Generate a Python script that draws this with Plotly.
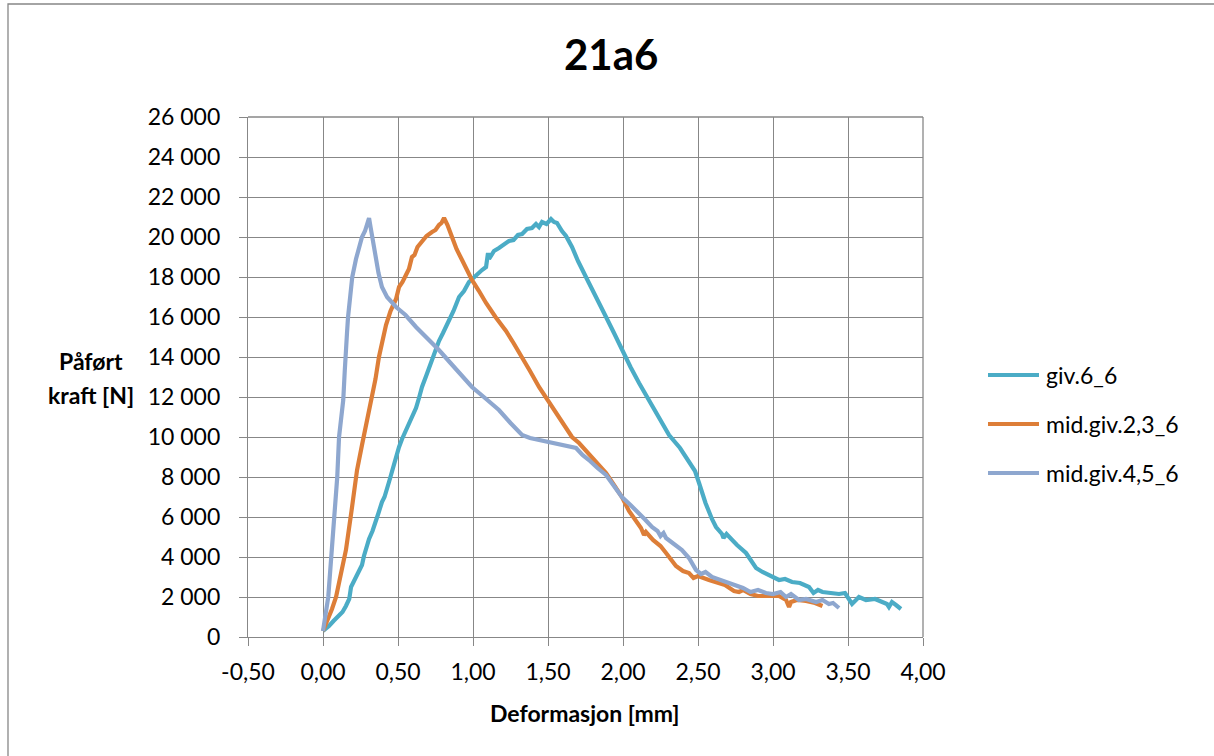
import plotly.graph_objects as go

# Deformasjon [mm] og påført kraft [N] for de tre målepunktene
giv_6_6_x = [0.0, 0.02, 0.04, 0.07, 0.107, 0.13, 0.153, 0.175, 0.187, 0.21, 0.24, 0.26, 0.273, 0.29,
             0.307, 0.33, 0.353, 0.37, 0.393, 0.41, 0.44, 0.46, 0.487, 0.507, 0.527, 0.55, 0.573, 0.60,
             0.62, 0.64, 0.66, 0.69, 0.727, 0.75, 0.773, 0.80, 0.84, 0.87, 0.907, 0.94, 0.973, 1.00,
             1.04, 1.06, 1.087, 1.10, 1.107, 1.14, 1.173, 1.20, 1.24, 1.27, 1.30, 1.327, 1.36, 1.393,
             1.42, 1.44, 1.46, 1.49, 1.52, 1.54, 1.56, 1.593, 1.62, 1.66, 1.70, 1.773, 1.83, 1.887,
             1.94, 1.993, 2.05, 2.107, 2.173, 2.24, 2.307, 2.38, 2.44, 2.48, 2.507, 2.55, 2.593, 2.62,
             2.66, 2.67, 2.69, 2.72, 2.76, 2.82, 2.85, 2.887, 2.93, 2.993, 3.04, 3.08, 3.127, 3.18,
             3.24, 3.27, 3.30, 3.33, 3.393, 3.44, 3.48, 3.51, 3.527, 3.573, 3.62, 3.68, 3.727, 3.76,
             3.773, 3.793, 3.82, 3.853]
giv_6_6_y = [300, 420, 550, 800, 1050, 1250, 1550, 1900, 2500, 2850, 3200, 3600, 4050, 4500,
             4900, 5300, 5750, 6200, 6750, 7000, 7750, 8300, 9000, 9500, 9900, 10300, 10700, 11200,
             11450, 11950, 12500, 13100, 13900, 14400, 14800, 15200, 15800, 16300, 17000, 17300, 17750, 17950,
             18250, 18350, 18500, 19200, 18900, 19300, 19450, 19600, 19800, 19850, 20100, 20150, 20400, 20450,
             20650, 20500, 20750, 20650, 20900, 20750, 20700, 20300, 20050, 19500, 18800, 17700, 16800, 16000,
             15200, 14350, 13500, 12700, 11850, 11000, 10100, 9450, 8700, 8300, 7700, 6700, 5900, 5500,
             5150, 4950, 5150, 4900, 4600, 4200, 3900, 3450, 3250, 3000, 2850, 2900, 2750, 2700,
             2500, 2200, 2350, 2250, 2200, 2150, 2200, 1800, 1650, 2000, 1850, 1900, 1750, 1650,
             1500, 1750, 1600, 1400]

mid_giv_2_3_6_x = [0.0, 0.03, 0.06, 0.087, 0.12, 0.153, 0.19, 0.227, 0.26, 0.293, 0.327, 0.35, 0.373,
                   0.40, 0.42, 0.45, 0.487, 0.507, 0.53, 0.553, 0.573, 0.593, 0.61, 0.63, 0.66, 0.69,
                   0.727, 0.75, 0.773, 0.79, 0.807, 0.83, 0.86, 0.89, 0.927, 0.96, 0.993, 1.04, 1.087,
                   1.15, 1.22, 1.27, 1.327, 1.38, 1.44, 1.50, 1.553, 1.61, 1.66, 1.707, 1.75, 1.793,
                   1.84, 1.887, 1.94, 1.993, 2.04, 2.087, 2.12, 2.14, 2.153, 2.20, 2.25, 2.287, 2.32,
                   2.353, 2.40, 2.44, 2.47, 2.50, 2.573, 2.62, 2.68, 2.74, 2.773, 2.80, 2.85, 2.90,
                   2.953, 3.00, 3.04, 3.087, 3.107, 3.12, 3.16, 3.22, 3.28, 3.33]
mid_giv_2_3_6_y = [300, 800, 1400, 2000, 3200, 4350, 6300, 8350, 9600, 10850, 11900, 12900, 14000,
                   15000, 15600, 16300, 16900, 17500, 17750, 18100, 18400, 19000, 19100, 19500, 19800, 20050,
                   20250, 20350, 20600, 20700, 20950, 20600, 20000, 19400, 18850, 18300, 17850, 17300, 16700,
                   16000, 15300, 14700, 14000, 13300, 12500, 11800, 11200, 10500, 10000, 9700, 9350, 8950,
                   8600, 8200, 7600, 7000, 6300, 5750, 5450, 5100, 5250, 4850, 4550, 4200, 3900,
                   3550, 3300, 3200, 2950, 3050, 2850, 2750, 2600, 2300, 2250, 2350, 2150, 2050,
                   2050, 2000, 2050, 1850, 1500, 1750, 1850, 1800, 1700, 1550]

mid_giv_4_5_6_x = [0.0, 0.035, 0.06, 0.08, 0.095, 0.107, 0.125, 0.135, 0.145, 0.153, 0.16, 0.167, 0.18,
                   0.195, 0.22, 0.24, 0.26, 0.28, 0.295, 0.307, 0.317, 0.327, 0.35, 0.37, 0.393, 0.427,
                   0.487, 0.55, 0.62, 0.70, 0.773, 0.85, 0.92, 0.993, 1.08, 1.173, 1.25, 1.327, 1.38,
                   1.44, 1.55, 1.687, 1.73, 1.773, 1.83, 1.887, 1.94, 1.993, 2.05, 2.107, 2.15, 2.193,
                   2.23, 2.25, 2.27, 2.287, 2.33, 2.393, 2.44, 2.487, 2.52, 2.55, 2.593, 2.65, 2.70,
                   2.773, 2.80, 2.85, 2.90, 2.953, 3.00, 3.05, 3.087, 3.12, 3.173, 3.22, 3.287, 3.33,
                   3.373, 3.40, 3.44]
mid_giv_4_5_6_y = [300, 2000, 4500, 6500, 8000, 10000, 11200, 11850, 13300, 14000, 15200, 16000, 17000,
                   18000, 18900, 19500, 20000, 20300, 20700, 20950, 20500, 20000, 19000, 18200, 17500, 17000,
                   16500, 16100, 15500, 14900, 14350, 13700, 13100, 12500, 11950, 11350, 10700, 10100, 9950,
                   9850, 9650, 9450, 9100, 8850, 8450, 8100, 7550, 7000, 6600, 6200, 5850, 5500,
                   5300, 5050, 5200, 4950, 4700, 4350, 3950, 3350, 3150, 3250, 3000, 2850, 2700,
                   2550, 2450, 2250, 2350, 2200, 2150, 2250, 2000, 2150, 1850, 1900, 1750, 1850,
                   1650, 1700, 1450]

series_names = ["giv.6_6", "mid.giv.2,3_6", "mid.giv.4,5_6"]
series_colors = ["#4BACC6", "#DD7E38", "#8EA7CF"]

x_tick_vals = [-0.5, 0.0, 0.5, 1.0, 1.5, 2.0, 2.5, 3.0, 3.5, 4.0]
x_tick_text = ["-0,50", "0,00", "0,50", "1,00", "1,50", "2,00", "2,50", "3,00", "3,50", "4,00"]
y_tick_vals = list(range(0, 26001, 2000))
y_tick_text = ["0", "2 000", "4 000", "6 000", "8 000", "10 000", "12 000", "14 000",
               "16 000", "18 000", "20 000", "22 000", "24 000", "26 000"]

FONT = "Lato"
GRID = "#878787"

W, H = 1214, 756
ML, MR, MT, MB = 248, 291, 117, 119
PW, PH = W - ML - MR, H - MT - MB


def px(x):
    return (x - ML) / PW


def py(y):
    return (H - MB - y) / PH


fig = go.Figure()
for xs, ys, name, color in zip(
        [giv_6_6_x, mid_giv_2_3_6_x, mid_giv_4_5_6_x],
        [giv_6_6_y, mid_giv_2_3_6_y, mid_giv_4_5_6_y],
        series_names, series_colors):
    fig.add_trace(go.Scatter(x=xs, y=ys, mode="lines", name=name,
                             line=dict(color=color, width=4.2), showlegend=False))

axis_common = dict(showgrid=True, gridcolor=GRID, gridwidth=1.3, showline=True, linecolor=GRID,
                   linewidth=1.3, ticks="outside", ticklen=8, tickcolor=GRID, tickwidth=1.3,
                   zeroline=False, tickfont=dict(family=FONT, size=23, color="#000000"))

fig.update_xaxes(range=[-0.5, 4.0], tickmode="array", tickvals=x_tick_vals, ticktext=x_tick_text,
                 ticklabelstandoff=6, **axis_common)
fig.update_yaxes(range=[0, 26000], tickmode="array", tickvals=y_tick_vals, ticktext=y_tick_text,
                 ticklabelstandoff=14, **axis_common)

shapes = [
    # outer chart frame
    dict(type="rect", xref="paper", yref="paper", x0=px(8), y0=py(770), x1=px(1230), y1=py(4),
         line=dict(color=GRID, width=1.3), layer="below"),
    # gridlines at the upper and right range limits
    dict(type="line", xref="paper", yref="paper", x0=0, x1=1, y0=1, y1=1,
         line=dict(color=GRID, width=1.3)),
    dict(type="line", xref="paper", yref="paper", x0=1, x1=1, y0=0, y1=1,
         line=dict(color=GRID, width=1.3)),
]

annotations = [
    dict(text="<b>21a6</b>", x=px(611), y=py(54), xref="paper", yref="paper", showarrow=False,
         xanchor="center", yanchor="middle", font=dict(family=FONT, size=42, color="#000000")),
    dict(text="<b>Deformasjon [mm]</b>", x=px(585), y=py(713), xref="paper", yref="paper",
         showarrow=False, xanchor="center", yanchor="middle",
         font=dict(family=FONT, size=23, color="#000000")),
    dict(text="<b>Påført</b>", x=px(91), y=py(361), xref="paper", yref="paper",
         showarrow=False, xanchor="center", yanchor="middle",
         font=dict(family=FONT, size=23, color="#000000")),
    dict(text="<b>kraft [N]</b>", x=px(91), y=py(395), xref="paper", yref="paper",
         showarrow=False, xanchor="center", yanchor="middle",
         font=dict(family=FONT, size=23, color="#000000")),
]

# legend: line sample followed by the series name
legend_rows = [375, 424, 473]
for name, color, row in zip(series_names, series_colors, legend_rows):
    shapes.append(dict(type="line", xref="paper", yref="paper", x0=px(988), x1=px(1039),
                       y0=py(row), y1=py(row), line=dict(color=color, width=4)))
    annotations.append(dict(text=name, x=px(1044), y=py(row), xref="paper", yref="paper",
                            showarrow=False, xanchor="left", yanchor="middle",
                            font=dict(family=FONT, size=23, color="#000000")))

fig.update_layout(width=W, height=H, margin=dict(l=ML, r=MR, t=MT, b=MB),
                  paper_bgcolor="white", plot_bgcolor="white",
                  shapes=shapes, annotations=annotations, showlegend=False)

fig.write_html("out.html")
